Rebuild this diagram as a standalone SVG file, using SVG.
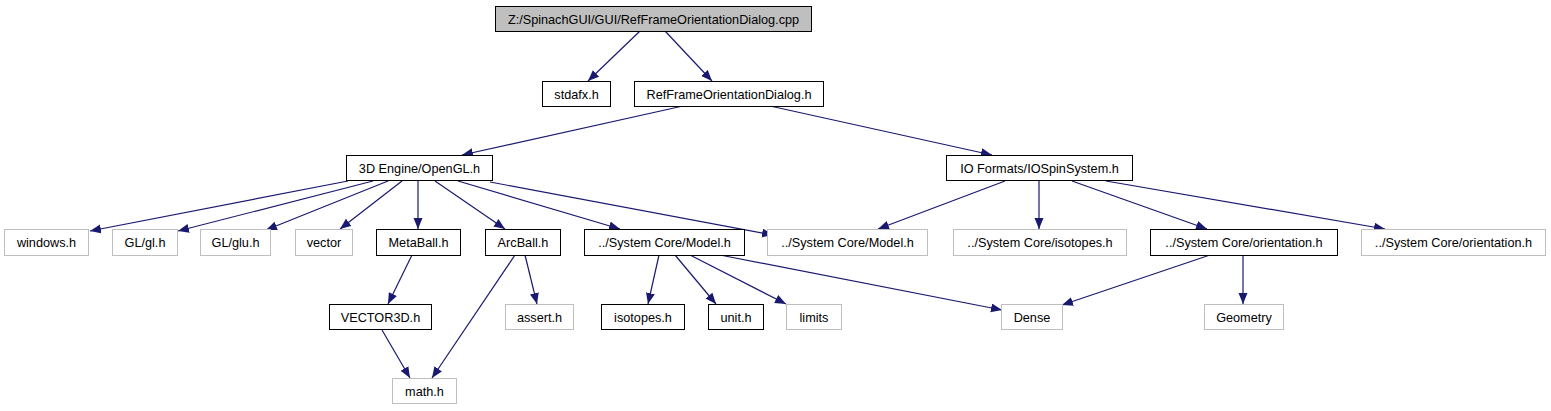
<svg xmlns="http://www.w3.org/2000/svg" width="1551" height="411" viewBox="0 0 1551 411">
<style>
.n rect{fill:#fff;stroke:#000;stroke-width:1}
.g rect{fill:#fff;stroke:#bfbfbf;stroke-width:1}
.root rect{fill:#bfbfbf;stroke:#000;stroke-width:1}
text{font-family:"Liberation Sans",Arial,sans-serif;font-size:12.7px;fill:#000;text-anchor:middle}
#edges line{stroke:#191970;stroke-width:1.2;marker-end:url(#ah)}
</style>
<defs>
<marker id="ah" markerUnits="userSpaceOnUse" markerWidth="12" markerHeight="10" refX="11" refY="4.5" orient="auto">
<path d="M0,0 L11,4.5 L0,9 z" fill="#191970"/>
</marker>
</defs>
<rect width="1551" height="411" fill="#fff"/>
<g id="edges">
<line x1="640" y1="31" x2="588" y2="81"/>
<line x1="665" y1="31" x2="712" y2="81"/>
<line x1="683" y1="106" x2="462" y2="155"/>
<line x1="770" y1="106" x2="992" y2="155"/>
<line x1="348" y1="181" x2="90" y2="231"/>
<line x1="373" y1="181" x2="178" y2="231"/>
<line x1="388" y1="181" x2="266" y2="230"/>
<line x1="402" y1="181" x2="340" y2="229"/>
<line x1="418" y1="181" x2="418" y2="229"/>
<line x1="435" y1="181" x2="505" y2="229"/>
<line x1="458" y1="181" x2="620" y2="229"/>
<line x1="490" y1="182" x2="773" y2="235"/>
<line x1="1005" y1="181" x2="878" y2="229"/>
<line x1="1039" y1="181" x2="1039" y2="229"/>
<line x1="1072" y1="181" x2="1207" y2="229"/>
<line x1="1106" y1="181" x2="1385" y2="229"/>
<line x1="412" y1="255" x2="388" y2="304"/>
<line x1="382" y1="330" x2="410" y2="378"/>
<line x1="515" y1="255" x2="432" y2="378"/>
<line x1="525" y1="255" x2="537" y2="304"/>
<line x1="659" y1="255" x2="648" y2="304"/>
<line x1="675" y1="255" x2="716" y2="304"/>
<line x1="690" y1="255" x2="786" y2="304"/>
<line x1="720" y1="255" x2="1002" y2="310"/>
<line x1="1210" y1="255" x2="1062" y2="305"/>
<line x1="1243" y1="255" x2="1243" y2="304"/>
</g>
<g id="node_root" class="root"><rect x="495.5" y="6.5" width="316" height="25"/><text x="653.5" y="23.5">Z:/SpinachGUI/GUI/RefFrameOrientationDialog.cpp</text></g>
<g id="node_stdafx" class="n"><rect x="542.5" y="81.5" width="68" height="25"/><text x="576.5" y="98.5">stdafx.h</text></g>
<g id="node_refframe" class="n"><rect x="634.5" y="81.5" width="189" height="25"/><text x="729" y="98.5">RefFrameOrientationDialog.h</text></g>
<g id="node_opengl" class="n"><rect x="346.5" y="155.5" width="146" height="25"/><text x="419.5" y="172.5">3D Engine/OpenGL.h</text></g>
<g id="node_iospin" class="n"><rect x="946.5" y="155.5" width="186" height="25"/><text x="1039.5" y="172.5">IO Formats/IOSpinSystem.h</text></g>
<g id="node_windows" class="g"><rect x="4.5" y="229.5" width="84" height="26"/><text x="46.5" y="247">windows.h</text></g>
<g id="node_gl" class="g"><rect x="112.5" y="229.5" width="65" height="26"/><text x="145" y="247">GL/gl.h</text></g>
<g id="node_glu" class="g"><rect x="200.5" y="229.5" width="70" height="26"/><text x="235.5" y="247">GL/glu.h</text></g>
<g id="node_vector" class="g"><rect x="295.5" y="229.5" width="57" height="26"/><text x="324" y="247">vector</text></g>
<g id="node_metaball" class="n"><rect x="376.5" y="229.5" width="84" height="26"/><text x="418.5" y="247">MetaBall.h</text></g>
<g id="node_arcball" class="n"><rect x="485.5" y="229.5" width="75" height="26"/><text x="523" y="247">ArcBall.h</text></g>
<g id="node_model" class="n"><rect x="584.5" y="229.5" width="160" height="26"/><text x="664.5" y="247">../System Core/Model.h</text></g>
<g id="node_model2" class="g"><rect x="767.5" y="229.5" width="160" height="26"/><text x="847.5" y="247">../System Core/Model.h</text></g>
<g id="node_isotopes2" class="g"><rect x="953.5" y="229.5" width="173" height="26"/><text x="1040" y="247">../System Core/isotopes.h</text></g>
<g id="node_orientation" class="n"><rect x="1150.5" y="229.5" width="187" height="26"/><text x="1244" y="247">../System Core/orientation.h</text></g>
<g id="node_orientation2" class="g"><rect x="1361.5" y="229.5" width="184" height="26"/><text x="1453.5" y="247">../System Core/orientation.h</text></g>
<g id="node_vector3d" class="n"><rect x="329.5" y="304.5" width="102" height="25"/><text x="380.5" y="321.5">VECTOR3D.h</text></g>
<g id="node_assert" class="g"><rect x="505.5" y="304.5" width="68" height="25"/><text x="539.5" y="321.5">assert.h</text></g>
<g id="node_isotopes" class="n"><rect x="601.5" y="304.5" width="83" height="25"/><text x="643" y="321.5">isotopes.h</text></g>
<g id="node_unit" class="n"><rect x="708.5" y="304.5" width="55" height="25"/><text x="736" y="321.5">unit.h</text></g>
<g id="node_limits" class="g"><rect x="786.5" y="304.5" width="55" height="25"/><text x="814" y="321.5">limits</text></g>
<g id="node_dense" class="g"><rect x="1001.5" y="304.5" width="61" height="25"/><text x="1032" y="321.5">Dense</text></g>
<g id="node_geometry" class="g"><rect x="1204.5" y="304.5" width="79" height="25"/><text x="1244" y="321.5">Geometry</text></g>
<g id="node_math" class="g"><rect x="392.5" y="378.5" width="64" height="25"/><text x="424.5" y="395.5">math.h</text></g>
</svg>
